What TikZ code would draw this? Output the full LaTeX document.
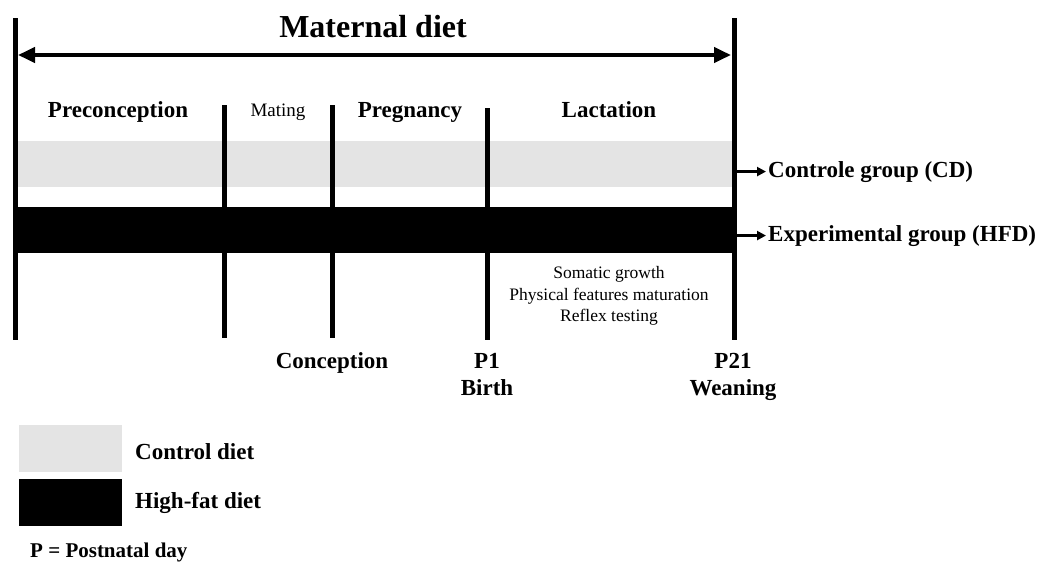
\documentclass[tikz,border=0pt]{standalone}
\usepackage{fontspec}
\setmainfont{Liberation Serif}
\usetikzlibrary{arrows.meta}
\definecolor{cdgray}{RGB}{228,228,228}
\begin{document}
\begin{tikzpicture}[x=1pt,y=-1pt,
  tick/.style={line width=5pt},
  txt/.style={inner sep=0pt, anchor=base},
  bold23/.style={txt, font=\fontsize{23}{26}\selectfont\bfseries},
  grouparrow/.style={line width=2.5pt, -{Triangle[length=9pt,width=9pt]}, shorten <=3pt, shorten >=2pt}]
\useasboundingbox (0,0) rectangle (1039,565);
% bands and lines
\fill[cdgray] (17,141) rectangle (733,187);
\draw[tick] (15.5,18) coordinate (L) -- (15.5,340);
\draw[tick] (734,18) coordinate (R) -- (734,340);
\draw[tick] (224,105) -- (224,338);
\draw[tick] (332,105) -- (332,338);
\draw[tick] (487,108) -- (487,340);
\fill[black] (15,207) rectangle (736,253);
% maternal diet arrow
\coordinate (aL) at (18,55);
\coordinate (aR) at (731,55);
\draw[line width=4pt, {Triangle[length=17pt,width=15pt]}-{Triangle[length=17pt,width=15pt]}] (aL) -- (aR);
\node[txt, font=\fontsize{32}{36}\selectfont\bfseries] (title) at (373,37) {Maternal diet};
% phase labels
\node[bold23] (pre) at (118,117) {Preconception};
\node[txt, font=\fontsize{19}{22}\selectfont] (mat) at (278,116) {Mating};
\node[bold23] (preg) at (410,117) {Pregnancy};
\node[bold23] (lac) at (609,117) {Lactation};
% group labels
\node[bold23, anchor=base west] (cd) at (768,177) {Controle group (CD)};
\node[bold23, anchor=base west] (hfd) at (768,241) {Experimental group (HFD)};
\draw[grouparrow] (cd.west -| R) -- (cd.west);
\draw[grouparrow] (hfd.west -| R) -- (hfd.west);
% tests
\node[inner sep=0pt, align=center, font=\fontsize{17.5}{21.5}\selectfont] (tests) at (609,296) {Somatic growth\\Physical features maturation\\Reflex testing};
% time points
\node[bold23] (conc) at (332,368) {Conception};
\node[bold23] (p1) at (487,368) {P1};
\node[bold23] (birth) at (487,395) {Birth};
\node[bold23] (p21) at (733,368) {P21};
\node[bold23] (wean) at (733,395) {Weaning};
% legend
\fill[cdgray] (19,425) rectangle (122,472);
\fill[black] (19,479) rectangle (122,526);
\node[bold23, anchor=base west] (lcd) at (135,459) {Control diet};
\node[bold23, anchor=base west] (lhfd) at (135,508) {High-fat diet};
\node[txt, anchor=base west, font=\fontsize{21}{24}\selectfont\bfseries] (lp) at (30,557) {P = Postnatal day};
\end{tikzpicture}
\end{document}
